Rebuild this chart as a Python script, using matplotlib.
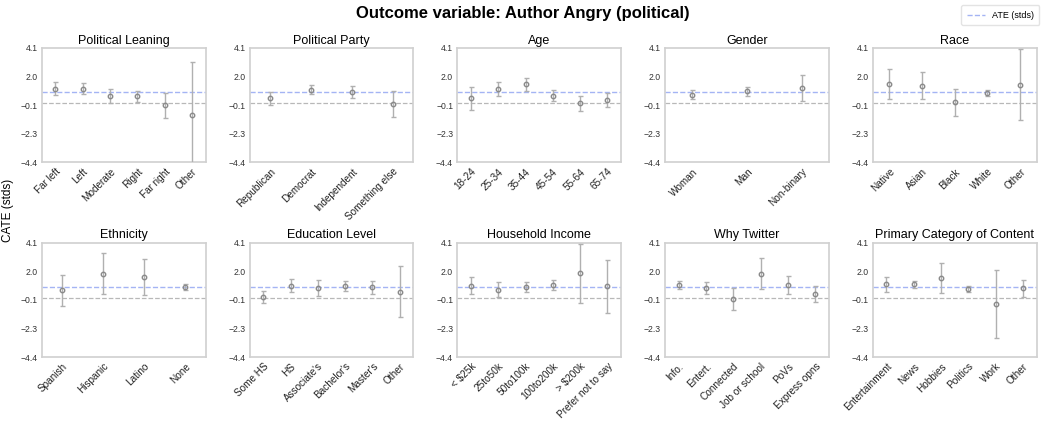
import matplotlib
matplotlib.use("Agg")
import matplotlib.pyplot as plt
from matplotlib.lines import Line2D
import numpy as np

plt.rcParams['font.family'] = ['Liberation Sans', 'DejaVu Sans']

ATE = 0.8

titles = ["Political Leaning", "Political Party", "Age", "Gender", "Race",
          "Ethnicity", "Education Level", "Household Income", "Why Twitter",
          "Primary Category of Content"]

cats_leaning = ["Far left", "Left", "Moderate", "Right", "Far right", "Other"]
vals_leaning = [1.07, 1.07, 0.52, 0.50, -0.15, -0.90]
errs_leaning = [0.48, 0.41, 0.50, 0.43, 0.92, 3.98]

cats_party = ["Republican", "Democrat", "Independent", "Something else"]
vals_party = [0.35, 0.99, 0.84, -0.05]
errs_party = [0.48, 0.34, 0.45, 0.95]

cats_age = ["18-24", "25-34", "35-44", "45-54", "55-64", "65-74"]
vals_age = [0.35, 1.09, 1.39, 0.57, -0.02, 0.22]
errs_age = [0.83, 0.52, 0.47, 0.42, 0.54, 0.53]

cats_gender = ["Woman", "Man", "Non-binary"]
vals_gender = [0.62, 0.87, 1.14]
errs_gender = [0.34, 0.30, 0.98]

cats_race = ["Native", "Asian", "Black", "White", "Other"]
vals_race = [1.42, 1.29, 0.07, 0.77, 1.37]
errs_race = [1.09, 0.99, 0.99, 0.24, 2.65]

cats_eth = ["Spanish", "Hispanic", "Latino", "None"]
vals_eth = [0.57, 1.80, 1.53, 0.77]
errs_eth = [1.15, 1.55, 1.35, 0.22]

cats_edu = ["Some HS", "HS", "Associate's", "Bachelor's", "Master's", "Other"]
vals_edu = [0.08, 0.89, 0.74, 0.84, 0.77, 0.45]
errs_edu = [0.45, 0.48, 0.59, 0.37, 0.49, 1.90]

cats_inc = ["< $25k", "25to50k", "50to100k", "100to200k", "> $200k", "Prefer not to say"]
vals_inc = [0.91, 0.59, 0.77, 0.94, 1.82, 0.84]
errs_inc = [0.60, 0.56, 0.37, 0.38, 2.20, 1.98]

cats_why = ["Info.", "Entert.", "Connected", "Job or school", "PoVs", "Express opns"]
vals_why = [0.96, 0.72, -0.09, 1.80, 0.94, 0.28]
errs_why = [0.30, 0.45, 0.83, 1.16, 0.68, 0.59]

cats_content = ["Entertainment", "News", "Hobbies", "Politics", "Work", "Other"]
vals_content = [1.01, 0.99, 1.48, 0.67, -0.46, 0.69]
errs_content = [0.55, 0.26, 1.09, 0.21, 2.50, 0.66]

panels = [
    (cats_leaning, vals_leaning, errs_leaning),
    (cats_party, vals_party, errs_party),
    (cats_age, vals_age, errs_age),
    (cats_gender, vals_gender, errs_gender),
    (cats_race, vals_race, errs_race),
    (cats_eth, vals_eth, errs_eth),
    (cats_edu, vals_edu, errs_edu),
    (cats_inc, vals_inc, errs_inc),
    (cats_why, vals_why, errs_why),
    (cats_content, vals_content, errs_content),
]

ymin, ymax = -4.4, 4.1
yticks = np.linspace(ymin, ymax, 5)
ytick_labels = ["\u22124.4", "\u22122.3", "\u22120.1", "2.0", "4.1"]

ATE_COLOR = '#a4b4f4'

fig, axes = plt.subplots(2, 5, figsize=(10.46, 4.21), dpi=100)
fig.subplots_adjust(left=0.040, right=0.991, top=0.886, bottom=0.152,
                    wspace=0.268, hspace=0.70)

for ax, title, (cats, vals, errs) in zip(axes.flat, titles, panels):
    x = np.arange(len(cats))
    ax.errorbar(x, vals, yerr=errs, fmt='o', mfc='none', mec='#8a8a8a',
                ms=3.2, mew=1.0, ecolor='#b0b0b0', elinewidth=1.0,
                capsize=1.8, capthick=0.9, zorder=3)
    ax.axhline(ATE, color=ATE_COLOR, ls='--', lw=1.0, zorder=1)
    ax.axhline(0, color='#b8b8b8', ls='--', lw=0.9, zorder=1)
    ax.set_xlim(-0.5, len(cats) - 0.5)
    ax.set_ylim(ymin, ymax)
    ax.set_yticks(yticks)
    ax.set_yticklabels(ytick_labels, fontsize=6.2, color='#333333')
    ax.set_xticks(x)
    ax.set_xticklabels(cats, rotation=45, ha='right', rotation_mode='anchor',
                       fontsize=7.2, color='#222222')
    ax.tick_params(axis='both', length=0, pad=3)
    ax.set_title(title, fontsize=9, pad=3)
    for s in ax.spines.values():
        s.set_color('#d0d0d0')
        s.set_linewidth(1.2)

fig.suptitle("Outcome variable: Author Angry (political)", fontsize=12,
             fontweight='bold', y=0.985)
fig.text(0.008, 0.50, "CATE (stds)", rotation=90, va='center', ha='center',
         fontsize=8.5)
ate_handle = Line2D([], [], color=ATE_COLOR, ls='--', lw=1.0)
fig.legend(handles=[ate_handle], labels=['ATE (stds)'], loc='upper right',
           bbox_to_anchor=(0.998, 0.998), fontsize=6.5, frameon=True,
           edgecolor='#dddddd', handlelength=2.0, borderpad=0.6)

fig.savefig("out.png", dpi=100)
